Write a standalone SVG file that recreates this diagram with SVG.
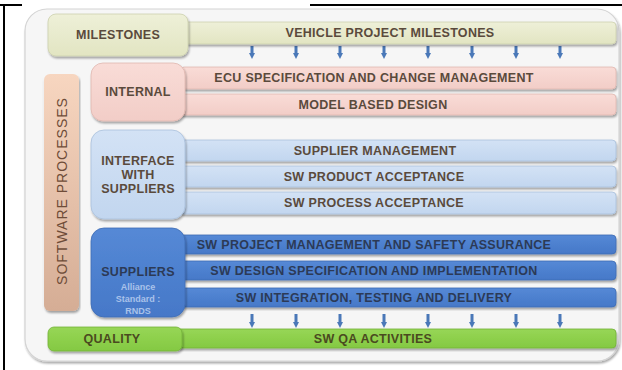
<svg xmlns="http://www.w3.org/2000/svg" width="622" height="370" viewBox="0 0 622 370">
<defs>
<filter id="sh" x="-5%" y="-10%" width="110%" height="130%">
<feGaussianBlur in="SourceAlpha" stdDeviation="1"/>
<feOffset dx="0.5" dy="1.5" result="o"/>
<feComponentTransfer><feFuncA type="linear" slope="0.35"/></feComponentTransfer>
<feMerge><feMergeNode/><feMergeNode in="SourceGraphic"/></feMerge>
</filter>
<linearGradient id="gSP" x1="0" y1="0" x2="0" y2="1"><stop offset="0" stop-color="#f7d6c0"/><stop offset="1" stop-color="#d5ad95"/></linearGradient>
<linearGradient id="gMil" x1="0" y1="0" x2="0" y2="1"><stop offset="0" stop-color="#eef0d8"/><stop offset="1" stop-color="#e2e5c2"/></linearGradient>
<linearGradient id="gInt" x1="0" y1="0" x2="0" y2="1"><stop offset="0" stop-color="#f9dcd7"/><stop offset="1" stop-color="#f2cdc7"/></linearGradient>
<linearGradient id="gIf" x1="0" y1="0" x2="0" y2="1"><stop offset="0" stop-color="#d3e2f5"/><stop offset="1" stop-color="#c2d6ef"/></linearGradient>
<linearGradient id="gSup" x1="0" y1="0" x2="0" y2="1"><stop offset="0" stop-color="#5589d6"/><stop offset="1" stop-color="#4678c8"/></linearGradient>
<linearGradient id="gQ" x1="0" y1="0" x2="0" y2="1"><stop offset="0" stop-color="#97d656"/><stop offset="1" stop-color="#84c942"/></linearGradient>
<marker id="ah" viewBox="0 0 6 6" refX="1" refY="3" markerWidth="2" markerHeight="2" orient="auto" markerUnits="strokeWidth"><path d="M0,0 L6,3 L0,6 z" fill="#4a78b8"/></marker>
</defs>
<style>
.t{font-family:"Liberation Sans",Arial,sans-serif;font-weight:bold;font-size:12.5px;letter-spacing:0.3px;text-anchor:middle;dominant-baseline:central}
.lt{fill:#5a4a3c}
.bt{fill:#2c3a56}
.sp{font-family:"Liberation Sans",Arial,sans-serif;font-size:14px;fill:#6e4c38;text-anchor:middle;dominant-baseline:central;letter-spacing:1px}
.small{font-family:"Liberation Sans",Arial,sans-serif;font-weight:bold;font-size:9px;fill:#a9c2ea;text-anchor:middle;dominant-baseline:central}
.ar{stroke:#4a78b8;stroke-width:3;fill:none}
</style>
<rect width="622" height="370" fill="#ffffff"/>
<g id="frame">
<line x1="0" y1="5" x2="22" y2="5" stroke="#000" stroke-width="2"/>
<line x1="310" y1="5" x2="622" y2="5" stroke="#000" stroke-width="2"/>
<line x1="4" y1="4" x2="4" y2="370" stroke="#000" stroke-width="2"/>
</g>
<g id="panel">
<rect x="25" y="9" width="594" height="352" rx="22" fill="#f6f6f6" stroke="#d4d4d4" stroke-width="1.2" filter="url(#sh)"/>
</g>
<g id="connectors">
<line class="ar" x1="252" y1="46" x2="252" y2="54" marker-end="url(#ah)"/>
<line class="ar" x1="296" y1="46" x2="296" y2="54" marker-end="url(#ah)"/>
<line class="ar" x1="340" y1="46" x2="340" y2="54" marker-end="url(#ah)"/>
<line class="ar" x1="384" y1="46" x2="384" y2="54" marker-end="url(#ah)"/>
<line class="ar" x1="428" y1="46" x2="428" y2="54" marker-end="url(#ah)"/>
<line class="ar" x1="472" y1="46" x2="472" y2="54" marker-end="url(#ah)"/>
<line class="ar" x1="516" y1="46" x2="516" y2="54" marker-end="url(#ah)"/>
<line class="ar" x1="560" y1="46" x2="560" y2="54" marker-end="url(#ah)"/>
<line class="ar" x1="252" y1="314" x2="252" y2="323" marker-end="url(#ah)"/>
<line class="ar" x1="296" y1="314" x2="296" y2="323" marker-end="url(#ah)"/>
<line class="ar" x1="340" y1="314" x2="340" y2="323" marker-end="url(#ah)"/>
<line class="ar" x1="384" y1="314" x2="384" y2="323" marker-end="url(#ah)"/>
<line class="ar" x1="428" y1="314" x2="428" y2="323" marker-end="url(#ah)"/>
<line class="ar" x1="472" y1="314" x2="472" y2="323" marker-end="url(#ah)"/>
<line class="ar" x1="516" y1="314" x2="516" y2="323" marker-end="url(#ah)"/>
<line class="ar" x1="560" y1="314" x2="560" y2="323" marker-end="url(#ah)"/>
</g>
<g id="milestones-bar">
<rect x="182" y="22" width="434" height="22" rx="4" fill="url(#gMil)" stroke="#cdd0ae" stroke-width="0.8" filter="url(#sh)"/>
<text class="t lt" x="390" y="33">VEHICLE PROJECT MILESTONES</text>
</g>
<g id="milestones">
<rect x="48" y="14" width="140" height="42" rx="8" fill="url(#gMil)" stroke="#cdd0ae" stroke-width="0.8" filter="url(#sh)"/>
<text class="t lt" x="118" y="35">MILESTONES</text>
</g>
<g id="software-processes">
<rect x="44" y="74" width="35" height="237" rx="6" fill="url(#gSP)" filter="url(#sh)"/>
<text class="sp" transform="translate(62,191) rotate(-90)">SOFTWARE PROCESSES</text>
</g>
<g id="ecu-spec">
<rect x="180" y="67" width="436" height="22" rx="4" fill="url(#gInt)" stroke="#e0b7b0" stroke-width="0.8" filter="url(#sh)"/>
<text class="t lt" x="374" y="78">ECU SPECIFICATION AND CHANGE MANAGEMENT</text>
</g>
<g id="model-based">
<rect x="180" y="94" width="436" height="21" rx="4" fill="url(#gInt)" stroke="#e0b7b0" stroke-width="0.8" filter="url(#sh)"/>
<text class="t lt" x="373" y="104.5">MODEL BASED DESIGN</text>
</g>
<g id="internal">
<rect x="91" y="63" width="94" height="58" rx="12" fill="url(#gInt)" stroke="#e0b7b0" stroke-width="0.8" filter="url(#sh)"/>
<text class="t lt" x="138" y="92">INTERNAL</text>
</g>
<g id="supplier-mgmt">
<rect x="180" y="140" width="436" height="21" rx="4" fill="url(#gIf)" stroke="#aac0dc" stroke-width="0.8" filter="url(#sh)"/>
<text class="t lt" x="375" y="150.5">SUPPLIER MANAGEMENT</text>
</g>
<g id="sw-product">
<rect x="180" y="166" width="436" height="21" rx="4" fill="url(#gIf)" stroke="#aac0dc" stroke-width="0.8" filter="url(#sh)"/>
<text class="t lt" x="374" y="176.5">SW PRODUCT ACCEPTANCE</text>
</g>
<g id="sw-process">
<rect x="180" y="192" width="436" height="22" rx="4" fill="url(#gIf)" stroke="#aac0dc" stroke-width="0.8" filter="url(#sh)"/>
<text class="t lt" x="374" y="203">SW PROCESS ACCEPTANCE</text>
</g>
<g id="interface">
<rect x="91" y="130" width="94" height="89" rx="13" fill="url(#gIf)" stroke="#aac0dc" stroke-width="0.8" filter="url(#sh)"/>
<text class="t lt" x="138" y="161">INTERFACE</text>
<text class="t lt" x="138" y="175">WITH</text>
<text class="t lt" x="138" y="189">SUPPLIERS</text>
</g>
<g id="sw-project">
<rect x="180" y="235" width="436" height="19" rx="4" fill="url(#gSup)" stroke="#3f6cb4" stroke-width="0.8" filter="url(#sh)"/>
<text class="t bt" x="374" y="244.5">SW PROJECT MANAGEMENT AND SAFETY ASSURANCE</text>
</g>
<g id="sw-design">
<rect x="180" y="261" width="436" height="19" rx="4" fill="url(#gSup)" stroke="#3f6cb4" stroke-width="0.8" filter="url(#sh)"/>
<text class="t bt" x="374" y="270.5">SW DESIGN SPECIFICATION AND IMPLEMENTATION</text>
</g>
<g id="sw-integration">
<rect x="180" y="288" width="436" height="19" rx="4" fill="url(#gSup)" stroke="#3f6cb4" stroke-width="0.8" filter="url(#sh)"/>
<text class="t bt" x="374" y="297.5">SW INTEGRATION, TESTING AND DELIVERY</text>
</g>
<g id="suppliers">
<rect x="91" y="228" width="94" height="89" rx="13" fill="url(#gSup)" stroke="#3f6cb4" stroke-width="0.8" filter="url(#sh)"/>
<text class="t bt" x="138" y="272">SUPPLIERS</text>
<text class="small" x="138" y="287">Alliance</text>
<text class="small" x="138" y="299">Standard :</text>
<text class="small" x="138" y="311">RNDS</text>
</g>
<g id="sw-qa">
<rect x="176" y="329" width="440" height="19" rx="4" fill="url(#gQ)" stroke="#74b338" stroke-width="0.8" filter="url(#sh)"/>
<text class="t lt" x="373" y="338.5" style="fill:#4a4a20">SW QA ACTIVITIES</text>
</g>
<g id="quality">
<rect x="48" y="327" width="134" height="24" rx="6" fill="url(#gQ)" stroke="#74b338" stroke-width="0.8" filter="url(#sh)"/>
<text class="t" x="112" y="339" style="fill:#4a4a20">QUALITY</text>
</g>
</svg>
